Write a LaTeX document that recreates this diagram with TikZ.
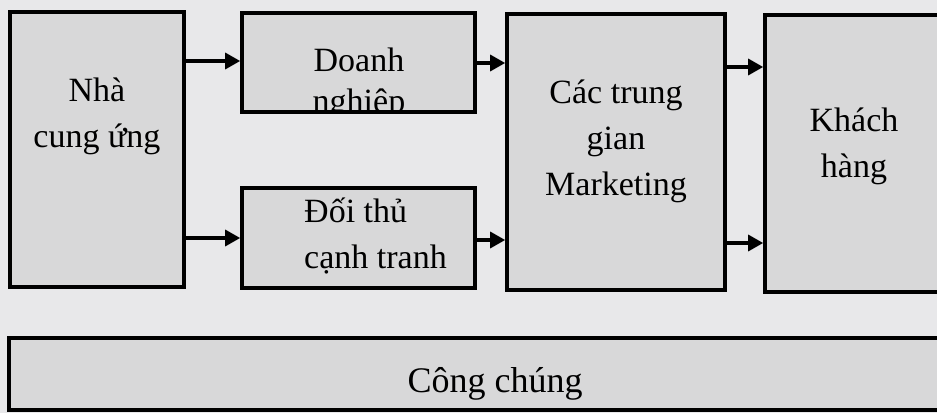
\documentclass[tikz,border=0pt]{standalone}
\usepackage{fontspec}
\setmainfont{Liberation Serif}
\usetikzlibrary{arrows.meta}
\definecolor{pagebg}{RGB}{232,232,234}
\definecolor{boxbg}{RGB}{216,216,217}
\tikzset{
  boxnode/.style={draw=black, line width=3.6pt, fill=boxbg, rectangle, inner sep=0pt},
  txt/.style={font=\fontsize{34}{46}\selectfont, align=center, inner sep=0pt},
  arr/.style={line width=3.2pt, -{Triangle[length=15pt,width=16pt]}}
}
\begin{document}
\begin{tikzpicture}[x=1pt,y=-1pt]
\fill[pagebg] (0,0) rectangle (937,413);
\useasboundingbox (0,0) rectangle (937,413);
% boxes
\node[boxnode, minimum width=174pt, minimum height=275pt] (nha) at (97,149.5) {};
\node[boxnode, minimum width=233pt, minimum height=99pt,
  path picture={\node[txt, font=\fontsize{34}{41}\selectfont, anchor=base] at ([xshift=0.5pt,yshift=-49.5pt]path picture bounding box.center) {Doanh\\nghiệp};}] (dn) at (358.5,62.5) {};
\node[boxnode, minimum width=233pt, minimum height=100pt] (dt) at (358.5,238) {};
\node[boxnode, minimum width=218pt, minimum height=276pt] (ctg) at (616,152) {};
\node[boxnode, minimum width=195pt, minimum height=277pt] (kh) at (862.5,153.5) {};
\node[boxnode, minimum width=951pt, minimum height=72pt] (cc) at (484.5,374) {};
% texts (anchor base = baseline of the last line)
\node[txt, anchor=base] (nhaT) at (97,147) {Nhà\\cung ứng};
\node[txt, align=left, anchor=base west] (dtT) at (304,268) {Đối thủ\\cạnh tranh};
\node[txt, anchor=base] (ctgT) at (616,195) {Các trung\\gian\\Marketing};
\node[txt, anchor=base] (khT) at (854,177) {Khách\\hàng};
\node[txt, font=\fontsize{36}{46}\selectfont, anchor=base] (ccT) at (495,392) {Công chúng};
% arrows
\draw[arr] (nha.east |- 0,61) -- (dn.west |- 0,61);
\draw[arr] (nha.east |- 0,238) -- (dt.west |- 0,238);
\draw[arr] (dn.east |- 0,63) -- (ctg.west |- 0,63);
\draw[arr] (dt.east |- 0,240) -- (ctg.west |- 0,240);
\draw[arr] (ctg.east |- 0,67) -- (kh.west |- 0,67);
\draw[arr] (ctg.east |- 0,243) -- (kh.west |- 0,243);
\end{tikzpicture}
\end{document}
